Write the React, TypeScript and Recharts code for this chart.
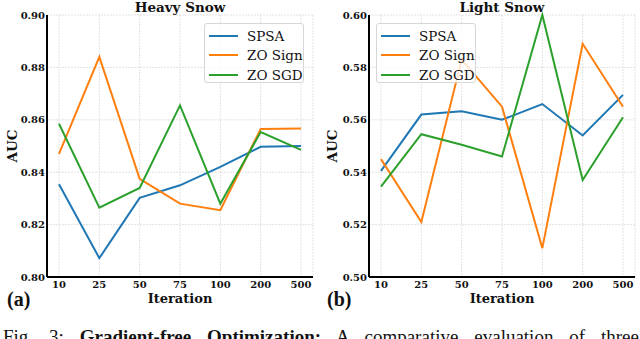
import { CartesianGrid, Legend, Line, LineChart, XAxis, YAxis } from "recharts";

const iterations = ["10", "25", "50", "75", "100", "200", "500"];

const heavySpsa = [0.8354, 0.8072, 0.8302, 0.835, 0.842, 0.8497, 0.85];
const heavySign = [0.847, 0.884, 0.8375, 0.828, 0.8255, 0.8565, 0.8567];
const heavySgd = [0.8585, 0.8265, 0.834, 0.8655, 0.828, 0.8553, 0.8485];

const lightSpsa = [0.5405, 0.562, 0.5633, 0.56, 0.566, 0.554, 0.5695];
const lightSign = [0.545, 0.521, 0.583, 0.565, 0.511, 0.589, 0.565];
const lightSgd = [0.5345, 0.5545, 0.5505, 0.546, 0.6, 0.537, 0.561];

const heavyTicks = [0.8, 0.82, 0.84, 0.86, 0.88, 0.9];
const lightTicks = [0.5, 0.52, 0.54, 0.56, 0.58, 0.6];

const SERIES = [
  { key: "spsa", name: "SPSA", color: "#1f77b4" },
  { key: "sign", name: "ZO Sign", color: "#ff7f0e" },
  { key: "sgd", name: "ZO SGD", color: "#2ca02c" },
];

const SERIF = "DejaVu Serif";
const TIMES = "'Liberation Serif', 'Times New Roman', serif";

function buildRows(spsa: number[], sign: number[], sgd: number[]) {
  return iterations.map((it, i) => ({ it, spsa: spsa[i], sign: sign[i], sgd: sgd[i] }));
}

function LegendBox() {
  return (
    <div
      style={{
        width: 100,
        height: 60,
        boxSizing: "border-box",
        border: "1px solid #d6d6d6",
        borderRadius: 3,
        background: "rgba(255,255,255,0.8)",
        padding: "2px 0 0 4px",
        fontFamily: SERIF,
        fontSize: 13.5,
        color: "#111",
      }}
    >
      {SERIES.map((s) => (
        <div key={s.key} style={{ display: "flex", alignItems: "center", height: 19.5 }}>
          <span style={{ width: 29, height: 2, background: s.color, marginRight: 9 }} />
          <span>{s.name}</span>
        </div>
      ))}
    </div>
  );
}

function Panel({
  rows,
  title,
  ticks,
  yWidth,
  right,
  legendLeft,
  tag,
}: {
  rows: Array<Record<string, number | string>>;
  title: string;
  ticks: number[];
  yWidth: number;
  right: number;
  legendLeft: number;
  tag: string;
}) {
  const plotLeft = yWidth;
  const plotRight = 320 - right;
  const mid = (plotLeft + plotRight) / 2;
  const tickStyle = { fontSize: 10, fontWeight: 700, fill: "#111", fontFamily: SERIF };
  return (
    <div style={{ position: "relative", width: 320, height: 339 }}>
      <LineChart width={320} height={339} data={rows} margin={{ top: 15, right, bottom: 42, left: 0 }}>
        <CartesianGrid stroke="#dadada" strokeDasharray="2 1" strokeWidth={0.8} />
        <XAxis
          dataKey="it"
          interval={0}
          padding={{ left: 12, right: 12 }}
          height={20}
          tickSize={4}
          tickMargin={0}
          tickLine={false}
          axisLine={{ stroke: "#000", strokeWidth: 2 }}
          tick={tickStyle}
        />
        <XAxis
          xAxisId="top"
          orientation="top"
          dataKey="it"
          height={0}
          tick={false}
          tickLine={false}
          axisLine={{ stroke: "#000", strokeWidth: 2 }}
        />
        <YAxis
          domain={[ticks[0], ticks[ticks.length - 1]]}
          ticks={ticks}
          width={yWidth}
          tickSize={2}
          tickMargin={0}
          tickLine={false}
          tickFormatter={(v: number) => v.toFixed(2)}
          axisLine={{ stroke: "#000", strokeWidth: 2 }}
          tick={tickStyle}
        />
        <YAxis
          yAxisId="r"
          orientation="right"
          domain={[ticks[0], ticks[ticks.length - 1]]}
          width={0}
          tick={false}
          tickLine={false}
          axisLine={{ stroke: "#000", strokeWidth: 2 }}
        />
        <Legend
          layout="vertical"
          align="center"
          verticalAlign="middle"
          wrapperStyle={{ top: 23, left: legendLeft, width: 100 }}
          content={() => <LegendBox />}
        />
        {SERIES.map((s) => (
          <Line
            key={s.key}
            dataKey={s.key}
            name={s.name}
            stroke={s.color}
            strokeWidth={2}
            dot={false}
            type="linear"
            isAnimationActive={false}
          />
        ))}
      </LineChart>
      <div
        style={{
          position: "absolute",
          left: mid - 100,
          width: 200,
          top: 0,
          textAlign: "center",
          fontFamily: SERIF,
          fontWeight: 700,
          fontSize: 13.5,
          lineHeight: "14px",
          color: "#111",
        }}
      >
        {title}
      </div>
      <div
        style={{
          position: "absolute",
          left: 12 - 50,
          top: 146 - 8,
          width: 100,
          height: 16,
          lineHeight: "16px",
          textAlign: "center",
          transform: "rotate(-90deg)",
          fontFamily: SERIF,
          fontWeight: 700,
          fontSize: 13.5,
          color: "#111",
        }}
      >
        AUC
      </div>
      <div
        style={{
          position: "absolute",
          left: mid - 60,
          width: 120,
          top: 292,
          textAlign: "center",
          fontFamily: SERIF,
          fontWeight: 700,
          fontSize: 13,
          lineHeight: "13px",
          color: "#111",
        }}
      >
        Iteration
      </div>
      <div
        style={{
          position: "absolute",
          left: 7,
          top: 288,
          fontFamily: TIMES,
          fontWeight: 700,
          fontSize: 20,
          lineHeight: "22px",
          color: "#111",
        }}
      >
        {tag}
      </div>
    </div>
  );
}

export default function App() {
  return (
    <div
      style={{
        position: "absolute",
        left: 0,
        top: 0,
        width: 640,
        height: 339,
        overflow: "hidden",
        background: "#fff",
      }}
    >
      <div style={{ position: "absolute", left: 0, top: 0 }}>
        <Panel
          rows={buildRows(heavySpsa, heavySign, heavySgd)}
          title="Heavy Snow"
          ticks={heavyTicks}
          yWidth={47}
          right={7}
          legendLeft={204}
          tag="(a)"
        />
      </div>
      <div style={{ position: "absolute", left: 320, top: 0 }}>
        <Panel
          rows={buildRows(lightSpsa, lightSign, lightSgd)}
          title="Light Snow"
          ticks={lightTicks}
          yWidth={49}
          right={5}
          legendLeft={56}
          tag="(b)"
        />
      </div>
      <div
        style={{
          position: "absolute",
          left: 3,
          top: 325,
          width: 636,
          fontFamily: TIMES,
          fontSize: 19,
          lineHeight: "24px",
          color: "#111",
          textAlign: "justify",
          textAlignLast: "justify",
        }}
      >
        Fig. 3: <b>Gradient-free Optimization:</b> A comparative evaluation of three
      </div>
    </div>
  );
}
